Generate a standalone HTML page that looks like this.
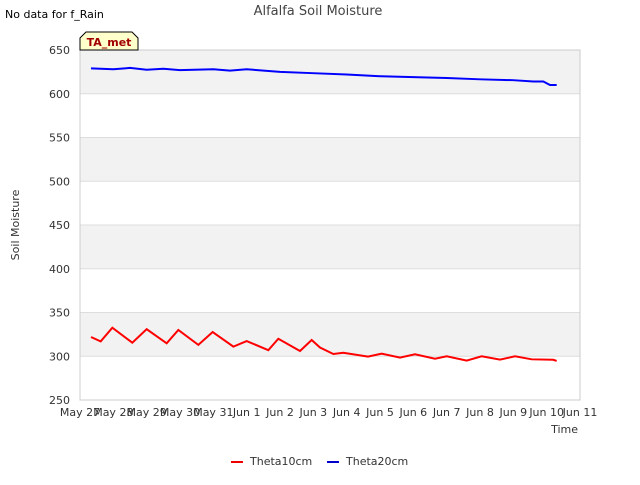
<!DOCTYPE html>
<html><head><meta charset="utf-8"><style>
body{margin:0;background:#fff;font-family:"Liberation Sans","DejaVu Sans",sans-serif}
svg text{font-family:"DejaVu Sans","Liberation Sans",sans-serif}
</style></head><body>
<svg id="chart" width="640" height="480" xmlns="http://www.w3.org/2000/svg">
<rect width="640" height="480" fill="#fff"/>
<text x="318" y="15" text-anchor="middle" font-size="13" fill="#444">Alfalfa Soil Moisture</text>
<text x="5" y="18" font-size="11" fill="#000">No data for f_Rain</text>
<g id="bands"></g>
<g id="grid"></g>
<rect x="80" y="50" width="500" height="350" fill="none" stroke="#ccc"/>
<g id="xt"></g><g id="yt"></g>
<g id="series"></g>
<text transform="translate(19,225) rotate(-90)" text-anchor="middle" font-size="11" fill="#333">Soil Moisture</text>
<text x="578" y="433" text-anchor="end" font-size="11" fill="#333">Time</text>
<g>
<path d="M80,50 L80,38 L86,32 L132,32 L138,38 L138,50 Z" fill="#ffffcc" stroke="#000"/>
<text x="109" y="46" text-anchor="middle" font-size="11" font-weight="bold" fill="#a00000">TA_met</text>
</g>
<g>
<line x1="231" y1="462" x2="243" y2="462" stroke="#e00" stroke-width="2"/>
<text x="250" y="465" font-size="11" fill="#333">Theta10cm</text>
<line x1="327" y1="462" x2="339" y2="462" stroke="#00c" stroke-width="2"/>
<text x="346" y="465" font-size="11" fill="#333">Theta20cm</text>
</g>
</svg>
<script>
const xTickLabels=["May 27","May 28","May 29","May 30","May 31","Jun 1","Jun 2","Jun 3","Jun 4","Jun 5","Jun 6","Jun 7","Jun 8","Jun 9","Jun 10","Jun 11"];
const yTicks=[250,300,350,400,450,500,550,600,650];
const t10Days=[0.33,0.62,0.97,1.57,2.0,2.6,2.95,3.55,3.98,4.6,5.0,5.65,5.95,6.6,6.95,7.2,7.6,7.9,8.64,9.05,9.6,10.05,10.65,11.0,11.6,12.05,12.6,13.05,13.55,14.2,14.3];
const t10Vals=[322,317,332.6,315.5,331,314.8,330,313,327.7,311,317.4,307,320,306,318.6,310,302.6,304,299.6,303,298.4,302.2,297.2,300,295,300,296.1,300,296.5,296,294.6];
const t20Days=[0.33,1,1.5,2,2.5,3,4,4.5,5,6,7,8,9,10,11,12,13,13.6,13.9,14.1,14.3];
const t20Vals=[629,628,629.5,627.5,628.5,627,628,626.5,628,625,623.5,622,620,619,618,616.5,615.5,614,614,610,610];
const NS="http://www.w3.org/2000/svg";
const X0=80,X1=580,Y0=400,Y1=50;
const xs=d=>X0+d*(X1-X0)/15;
const ys=v=>Y0-(v-250)*(Y0-Y1)/400;
function mk(tag,attrs,parent){const e=document.createElementNS(NS,tag);for(const k in attrs)e.setAttribute(k,attrs[k]);document.getElementById(parent).appendChild(e);return e;}
for(let i=0;i<yTicks.length-1;i++){
  if(i%2===1){const r=mk('rect',{x:X0,y:ys(yTicks[i+1]),width:X1-X0,height:ys(yTicks[i])-ys(yTicks[i+1]),fill:'#f2f2f2'},'bands');
  
  }
}
yTicks.forEach(v=>{
  const l=mk('line',{x1:X0,x2:X1,y1:ys(v),y2:ys(v),stroke:'#ddd'},'grid');
  
  
  const t=mk('text',{x:X0-10,y:ys(v)+4,'text-anchor':'end','font-size':'11',fill:'#333'},'yt');
  t.textContent=v;
  
  
});
xTickLabels.forEach((s,i)=>{
  const t=mk('text',{x:xs(i),y:416,'text-anchor':'middle','font-size':'11',fill:'#333'},'xt');
  t.textContent=s;
  
  
});
function line(days,vals,color,name){
  const p=mk('polyline',{points:days.map((d,i)=>xs(d)+','+ys(vals[i])).join(' '),fill:'none',stroke:color,'stroke-width':'2'},'series');
  
  
}
line(t10Days,t10Vals,'#f00','theta10cm-line');
line(t20Days,t20Vals,'#00f','theta20cm-line');
</script>
</body></html>
